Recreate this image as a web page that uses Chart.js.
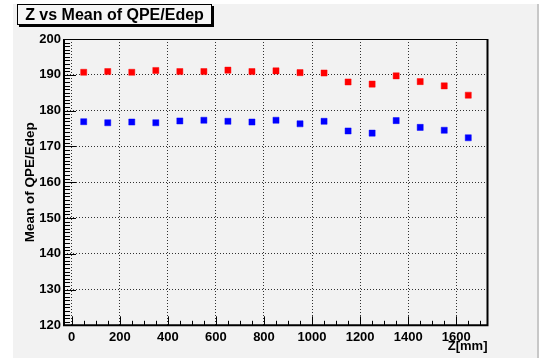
<!DOCTYPE html>
<html>
<head>
<meta charset="utf-8">
<script src="https://cdn.jsdelivr.net/npm/chart.js@4/dist/chart.umd.min.js"></script>
<style>
  html, body { margin: 0; padding: 0; background: #ffffff; }
  #wrap { width: 541px; height: 359px; position: relative; }
</style>
</head>
<body>
<div id="wrap"><canvas id="c" width="541" height="359"></canvas></div>
<script>
// Z positions (bin centres, mm)
const zValues = [50, 150, 250, 350, 450, 550, 650, 750, 850, 950, 1050, 1150, 1250, 1350, 1450, 1550, 1650];
// Mean of QPE/Edep, upper (red) series
const redMeans = [190.7, 190.9, 190.7, 191.2, 190.9, 190.9, 191.3, 190.9, 191.1, 190.6, 190.5, 188.0, 187.4, 189.7, 188.1, 186.9, 184.3];
// Mean of QPE/Edep, lower (blue) series
const blueMeans = [176.9, 176.6, 176.8, 176.6, 177.1, 177.3, 177.0, 176.8, 177.3, 176.3, 177.0, 174.3, 173.7, 177.2, 175.3, 174.5, 172.4];

// labelled axis ticks
const xTickValues = [0, 200, 400, 600, 800, 1000, 1200, 1400, 1600];
const yTickValues = [120, 130, 140, 150, 160, 170, 180, 190, 200];

const xRange = { min: -32, max: 1730, minorStep: 50, minorFrom: 0, minorTo: 1700 };
const yRange = { min: 120, max: 200, minorStep: 1 };

const titleText = 'Z vs Mean of QPE/Edep';
const xTitle = 'Z[mm]';
const yTitle = 'Mean of QPE/Edep';

const FONT = '"Liberation Sans", Arial, Helvetica, sans-serif';

const toPoints = (ys) => zValues.map((z, i) => ({ x: z, y: ys[i] }));

// Canvas background, grey pad, boxed title, inward tick marks and frame
const padPlugin = {
  id: 'pad',
  beforeDraw(chart) {
    const ctx = chart.ctx;
    ctx.save();
    ctx.fillStyle = '#ffffff';
    ctx.fillRect(0, 0, chart.width, chart.height);
    ctx.fillStyle = '#f2f2f2';
    ctx.fillRect(13, 4, 524, 354);
    ctx.fillStyle = '#c8c8c8';
    ctx.fillRect(537, 4, 2, 354);

    // title box with shadow
    ctx.fillStyle = '#000000';
    ctx.fillRect(19, 6, 195, 21);
    ctx.fillStyle = '#f5f5f5';
    ctx.fillRect(17, 4, 195, 21);
    ctx.strokeStyle = '#000000';
    ctx.lineWidth = 1;
    ctx.strokeRect(17.5, 4.5, 194, 20);
    ctx.fillStyle = '#000000';
    ctx.font = 'bold 16px ' + FONT;
    ctx.textBaseline = 'middle';
    ctx.textAlign = 'center';
    ctx.fillText(titleText, 114.5, 15.5);
    ctx.restore();
  },
  afterDatasetsDraw(chart) {
    const ctx = chart.ctx;
    const { left, right, top, bottom } = chart.chartArea;
    const xs = chart.scales.x, ys = chart.scales.y;
    ctx.save();
    ctx.strokeStyle = '#000000';

    ctx.lineWidth = 1;
    ctx.beginPath();
    for (let v = xRange.minorFrom; v <= xRange.minorTo; v += xRange.minorStep) {
      const px = Math.round(xs.getPixelForValue(v)) + 0.5;
      const len = xTickValues.includes(v) ? 9 : 4.5;
      ctx.moveTo(px, bottom);
      ctx.lineTo(px, bottom - len);
    }
    for (let v = yRange.min; v <= yRange.max; v += yRange.minorStep) {
      const py = Math.round(ys.getPixelForValue(v)) + 0.5;
      const len = yTickValues.includes(v) ? 12 : 6;
      ctx.moveTo(left, py);
      ctx.lineTo(left + len, py);
    }
    ctx.stroke();

    ctx.lineWidth = 1;
    ctx.beginPath();
    ctx.moveTo(left, Math.round(top) + 0.5);
    ctx.lineTo(right, Math.round(top) + 0.5);
    ctx.stroke();
    ctx.lineWidth = 2;
    ctx.beginPath();
    ctx.moveTo(left, top);
    ctx.lineTo(left, bottom);
    ctx.lineTo(right, bottom);
    ctx.lineTo(right, top);
    ctx.stroke();
    ctx.restore();
  }
};

new Chart(document.getElementById('c'), {
  type: 'scatter',
  data: {
    datasets: [
      {
        label: 'red',
        data: toPoints(redMeans),
        pointStyle: 'rect',
        pointRadius: 4.3,
        pointBackgroundColor: '#ff0000',
        pointBorderColor: 'rgba(255,0,0,0.45)',
        pointBorderWidth: 1
      },
      {
        label: 'blue',
        data: toPoints(blueMeans),
        pointStyle: 'rect',
        pointRadius: 4.3,
        pointBackgroundColor: '#0000ff',
        pointBorderColor: 'rgba(0,0,255,0.45)',
        pointBorderWidth: 1
      }
    ]
  },
  options: {
    responsive: false,
    animation: false,
    devicePixelRatio: 1,
    layout: { padding: { top: 39, right: 53.5, left: 0, bottom: 0 } },
    plugins: { legend: { display: false }, tooltip: { enabled: false }, title: { display: false } },
    scales: {
      x: {
        type: 'linear',
        min: xRange.min,
        max: xRange.max,
        afterBuildTicks(s) { s.ticks = xTickValues.map(v => ({ value: v })); },
        afterFit(s) { s.height = 33.7; },
        border: { display: false, dash: [1, 2] },
        grid: { drawTicks: false, color: 'rgba(0,0,0,0.8)', lineWidth: 1 },
        ticks: {
          padding: 4,
          maxRotation: 0,
          autoSkip: false,
          color: '#000000',
          callback: (v) => String(v),
          font: { family: FONT, size: 13, weight: 'bold' }
        },
        title: {
          display: true,
          text: xTitle,
          align: 'end',
          color: '#000000',
          padding: { top: 0, bottom: 5 },
          font: { family: FONT, size: 13, weight: 'bold' }
        }
      },
      y: {
        type: 'linear',
        min: yRange.min,
        max: yRange.max,
        afterBuildTicks(s) { s.ticks = yTickValues.map(v => ({ value: v })); },
        afterFit(s) { s.width = 64; },
        border: { display: false, dash: [1, 2] },
        grid: { drawTicks: false, color: 'rgba(0,0,0,0.8)', lineWidth: 1 },
        ticks: {
          padding: 3,
          color: '#000000',
          callback: (v) => String(v),
          font: { family: FONT, size: 13, weight: 'bold' }
        },
        title: {
          display: true,
          text: yTitle,
          color: '#000000',
          padding: { top: 22.5, bottom: 0 },
          font: { family: FONT, size: 13.5, weight: 'bold' }
        }
      }
    }
  },
  plugins: [padPlugin]
});
</script>
</body>
</html>
